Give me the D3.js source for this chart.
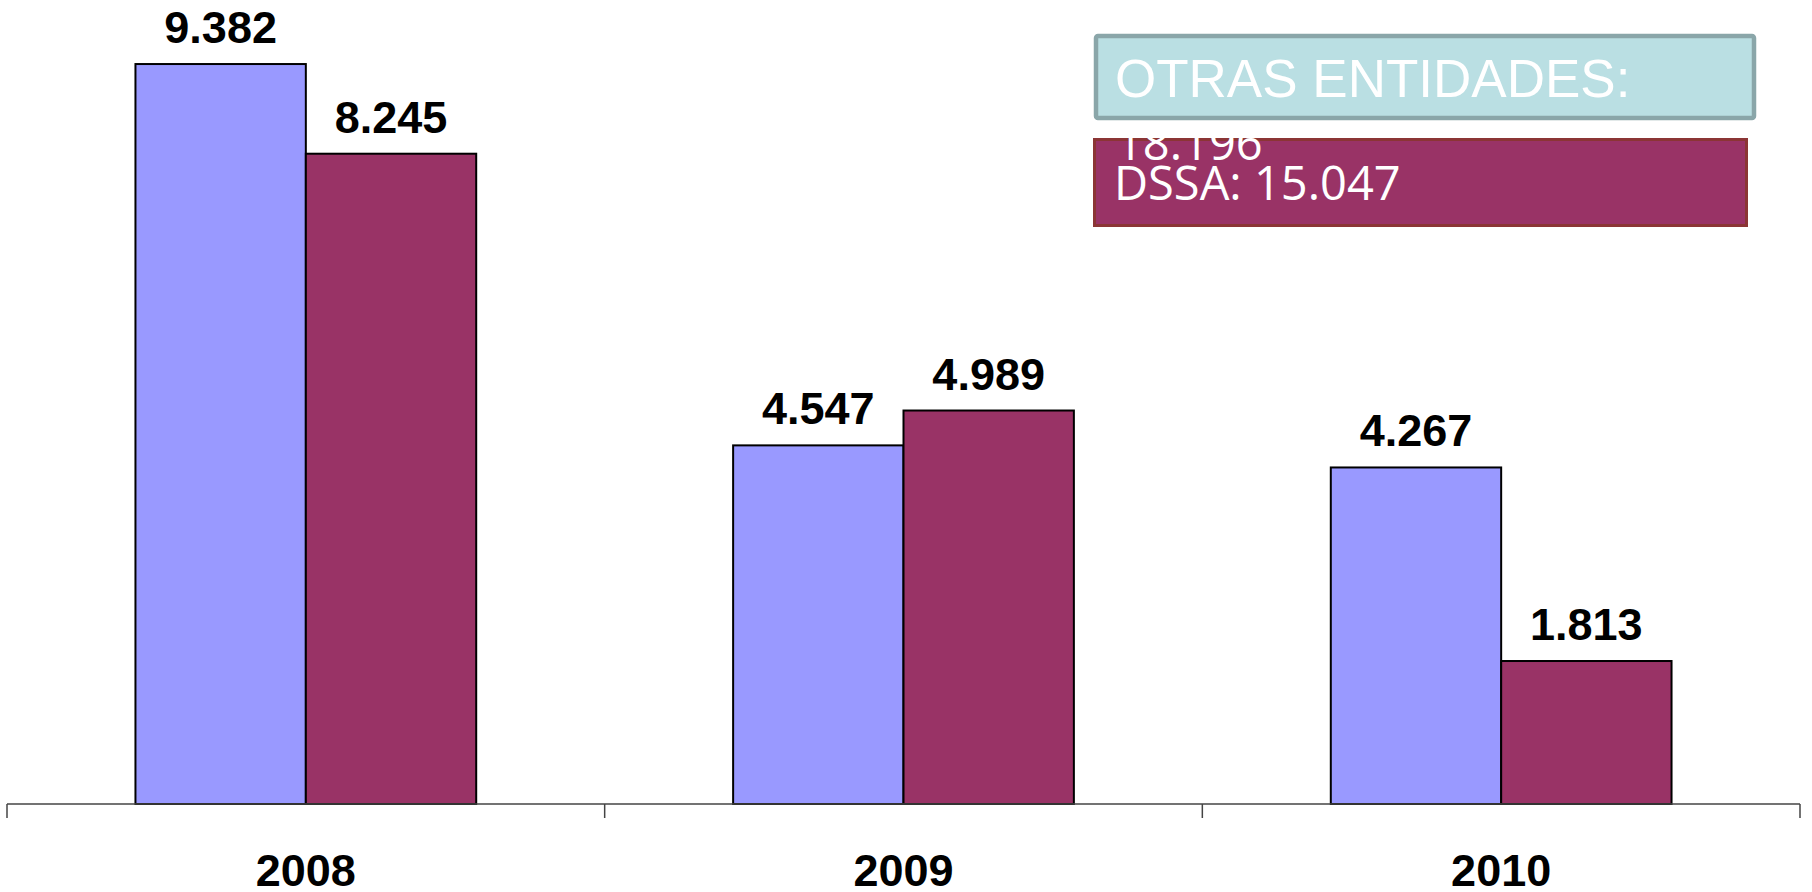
<!DOCTYPE html>
<html>
<head>
<meta charset="utf-8">
<script src="https://cdn.jsdelivr.net/npm/d3@7"></script>
<style>
  body { margin: 0; background: #fff; }
  svg { display: block; }
</style>
</head>
<body>
<div id="chart"></div>
<script>
const width = 1812
const height = 892

const years = ["2008", "2009", "2010"]
const series = ["OTRAS ENTIDADES", "DSSA"]
const otras = [9.382, 4.547, 4.267]
const dssa = [8.245, 4.989, 1.813]
const colors = ["#9999FF", "#993366"]
const totals = ["18.196", "15.047"]

const data = years.map((y, i) => ({year: y, values: [otras[i], dssa[i]]}))

const svg = d3.select("div#chart").append("svg").attr("width", width).attr("height", height)

const x0 = d3.scaleBand().domain(years).range([7, 1800]).padding(0)
const x1 = d3.scaleBand().domain(series).range([0, x0.bandwidth()]).paddingInner(0).paddingOuter(0.754)
const y = d3.scaleLinear().domain([0, 10]).range([804, 15.3])

const fmt = v => v.toFixed(3)

// bars
const groups = svg.selectAll(".year").data(data).enter()
  .append("g").attr("class", "year")
  .attr("transform", d => `translate(${x0(d.year)},0)`)

groups.selectAll("rect").data(d => d.values.map((v, i) => ({key: series[i], v: v, i: i})))
  .enter().append("rect")
  .attr("x", d => x1(d.key))
  .attr("y", d => y(d.v))
  .attr("width", x1.bandwidth())
  .attr("height", d => y(0) - y(d.v))
  .attr("fill", d => colors[d.i])
  .attr("stroke", "#000")
  .attr("stroke-width", 2)

// value labels
groups.selectAll("text").data(d => d.values.map((v, i) => ({key: series[i], v: v})))
  .enter().append("text")
  .attr("x", d => x1(d.key) + x1.bandwidth() / 2)
  .attr("y", d => y(d.v) - 21)
  .attr("text-anchor", "middle")
  .attr("font-family", "Liberation Sans, Arial, sans-serif")
  .attr("font-weight", "bold")
  .attr("font-size", 45)
  .attr("fill", "#000")
  .text(d => fmt(d.v))

// x axis: line + ticks at category boundaries, labels at centres
const axisGroup = svg.append("g").attr("class", "axisGroup")
const edges = years.map(yr => x0(yr)).concat([x0.range()[1]])
axisGroup.append("line")
  .attr("x1", edges[0]).attr("x2", edges[edges.length - 1])
  .attr("y1", y(0)).attr("y2", y(0))
  .attr("stroke", "#444").attr("stroke-width", 1.5)
axisGroup.selectAll(".tick-edge").data(edges).enter().append("line")
  .attr("class", "tick-edge")
  .attr("x1", d => d).attr("x2", d => d)
  .attr("y1", y(0)).attr("y2", y(0) + 14)
  .attr("stroke", "#444").attr("stroke-width", 1.5)

const xAxis = d3.axisBottom(x0).tickSize(0).tickPadding(0)
const xAxisGroup = axisGroup.append("g").attr("transform", `translate(0, 853)`).call(xAxis)
xAxisGroup.select(".domain").remove()
xAxisGroup.selectAll("text")
  .attr("dy", null)
  .attr("y", 33)
  .attr("font-family", "Liberation Sans, Arial, sans-serif")
  .attr("font-weight", "bold")
  .attr("font-size", 45)
  .attr("fill", "#000")

// annotation boxes
const box1 = svg.append("g")
box1.append("rect")
  .attr("x", 1096).attr("y", 36).attr("width", 658).attr("height", 82)
  .attr("rx", 2)
  .attr("fill", "#BADFE3").attr("stroke", "#8AA6A9").attr("stroke-width", 4.5)
box1.append("text")
  .attr("x", 1115).attr("y", 97)
  .attr("font-family", "Liberation Sans, Arial, sans-serif")
  .attr("font-size", 53)
  .attr("fill", "#fff")
  .text(series[0] + ":")

const box2 = svg.append("g")
box2.append("rect")
  .attr("x", 1094.5).attr("y", 139.5).attr("width", 652).attr("height", 86)
  .attr("fill", "#993366").attr("stroke", "#8B3535").attr("stroke-width", 3)
box2.append("text")
  .attr("x", 1116).attr("y", 160)
  .attr("font-family", "Open Sans, sans-serif")
  .attr("font-size", 47)
  .attr("fill", "#fff")
  .text(totals[0])
box2.append("text")
  .attr("x", 1114).attr("y", 200)
  .attr("font-family", "Open Sans, sans-serif")
  .attr("font-size", 47)
  .attr("fill", "#fff")
  .text(series[1] + ": " + totals[1])
</script>
</body>
</html>
